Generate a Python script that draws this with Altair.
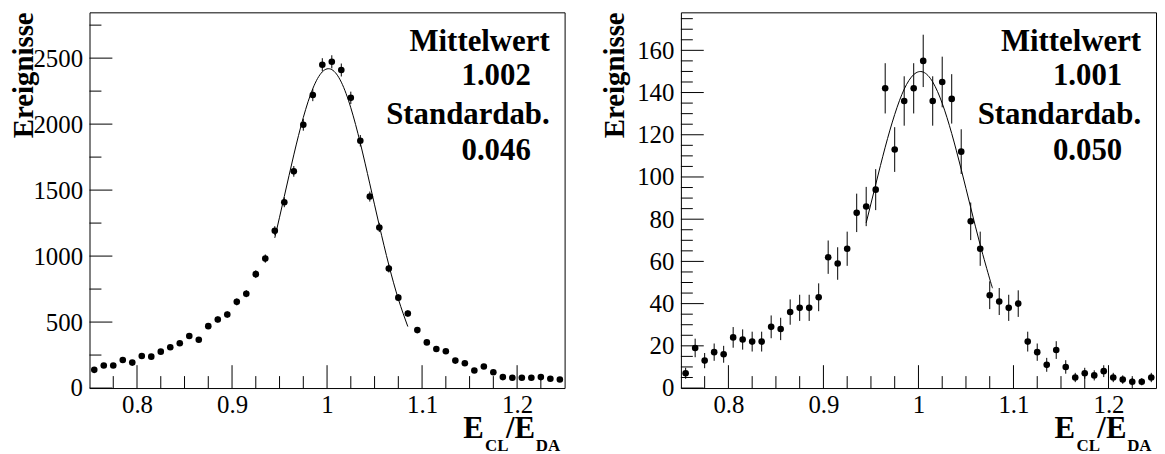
import altair as alt
import pandas as pd

# ---------------- data ----------------
bin_centers = [0.755, 0.765, 0.775, 0.785, 0.795, 0.805, 0.815, 0.825, 0.835, 0.845,
               0.855, 0.865, 0.875, 0.885, 0.895, 0.905, 0.915, 0.925, 0.935, 0.945,
               0.955, 0.965, 0.975, 0.985, 0.995, 1.005, 1.015, 1.025, 1.035, 1.045,
               1.055, 1.065, 1.075, 1.085, 1.095, 1.105, 1.115, 1.125, 1.135, 1.145,
               1.155, 1.165, 1.175, 1.185, 1.195, 1.205, 1.215, 1.225, 1.235, 1.245]

left_counts = [138, 171, 171, 213, 193, 243, 238, 276, 309, 339,
               394, 366, 469, 520, 557, 653, 715, 863, 981, 1192,
               1408, 1642, 1995, 2221, 2450, 2472, 2410, 2199, 1874, 1451,
               1217, 906, 685, 565, 439, 346, 296, 279, 208, 188,
               133, 163, 120, 83, 78, 78, 78, 83, 70, 65]
left_errors = [11.7, 13.1, 13.1, 14.6, 13.9, 15.6, 15.4, 16.6, 17.6, 18.4,
               19.8, 19.1, 21.7, 22.8, 23.6, 25.6, 26.7, 29.4, 31.3, 34.5,
               37.5, 40.5, 44.7, 47.1, 49.5, 49.7, 49.1, 46.9, 43.3, 38.1,
               34.9, 30.1, 26.2, 23.8, 21.0, 18.6, 17.2, 16.7, 14.4, 13.7,
               11.5, 12.8, 11.0, 9.1, 8.8, 8.8, 8.8, 9.1, 8.4, 8.1]

right_counts = [7, 19, 13, 17, 16, 24, 23, 22, 22, 29,
                28, 36, 38, 38, 43, 62, 59, 66, 83, 86,
                94, 142, 113, 136, 142, 155, 136, 145, 137, 112,
                79, 66, 44, 41, 38, 40, 22, 17, 11, 18,
                10, 5, 7, 6, 8, 5, 4, 3, 3, 5]
right_errors = [2.6, 4.4, 3.6, 4.1, 4.0, 4.9, 4.8, 4.7, 4.7, 5.4,
                5.3, 6.0, 6.2, 6.2, 6.6, 7.9, 7.7, 8.1, 9.1, 9.3,
                9.7, 11.9, 10.6, 11.7, 11.9, 12.4, 11.7, 12.0, 11.7, 10.6,
                8.9, 8.1, 6.6, 6.4, 6.2, 6.3, 4.7, 4.1, 3.3, 4.2,
                3.2, 2.2, 2.6, 2.4, 2.8, 2.2, 2.0, 1.7, 1.7, 2.2]

# fitted curves
left_fit_x = [0.945, 0.955, 0.965, 0.975, 0.985, 0.995, 1.005, 1.015, 1.025,
              1.035, 1.045, 1.055, 1.065, 1.075, 1.085]
left_fit_y = [1138, 1452, 1767, 2050, 2269, 2396, 2413, 2318, 2124,
              1856, 1547, 1231, 933, 675, 466]
right_fit_x = [0.945, 0.955, 0.965, 0.975, 0.985, 0.995, 1.005, 1.015, 1.025,
               1.035, 1.045, 1.055, 1.065, 1.075, 1.078]
right_fit_y = [78.3, 96.4, 114.1, 129.6, 141.6, 148.5, 149.7, 145.0, 134.9,
               120.6, 103.6, 85.5, 67.8, 51.7, 47.3]

# axis ticks and labels
x_major = [0.8, 0.9, 1.0, 1.1, 1.2]
x_minor = [0.775, 0.825, 0.85, 0.875, 0.925, 0.95, 0.975, 1.025, 1.05, 1.075,
           1.125, 1.15, 1.175, 1.225]
left_y_major = [0, 500, 1000, 1500, 2000, 2500]
left_y_minor = [250, 750, 1250, 1750, 2250, 2750]
right_y_major = [0, 20, 40, 60, 80, 100, 120, 140, 160]
right_y_minor = [5, 10, 15, 25, 30, 35, 45, 50, 55, 65, 70, 75, 85, 90, 95,
                 105, 110, 115, 125, 130, 135, 145, 150, 155, 165, 170, 175]

left_stats = ["Mittelwert", "1.002", "Standardab.", "0.046"]
right_stats = ["Mittelwert", "1.001", "Standardab.", "0.050"]
y_title = "Ereignisse"

# ---------------- chart ----------------
W, H = 478, 378
FONT = "Liberation Serif"
X_DOMAIN = [0.75, 1.25]


def panel(counts, errs, fit_x, fit_y, ymax, ymajor, yminor, stats):
    df = pd.DataFrame({
        "x": bin_centers,
        "y": counts,
        "lo": [c - e for c, e in zip(counts, errs)],
        "hi": [c + e for c, e in zip(counts, errs)],
    })
    fit = pd.DataFrame({"x": fit_x, "y": fit_y})
    xs = alt.Scale(domain=X_DOMAIN, nice=False, zero=False)
    ys = alt.Scale(domain=[0, ymax], nice=False, zero=False)

    x_axis = alt.Axis(values=x_major, format="~g", ticks=False, domain=False, grid=False,
                      labelFont=FONT, labelFontSize=25, labelColor="black",
                      labelPadding=5, labelFlush=False, labelOverlap=False, title=None)
    y_axis = alt.Axis(values=ymajor, format="d", ticks=False, domain=False, grid=False,
                      labelFont=FONT, labelFontSize=25, labelColor="black",
                      labelPadding=7, labelFlush=False, labelOverlap=False, title=None)

    def X(field):
        return alt.X(field, type="quantitative", scale=xs, axis=x_axis, title=None)

    def Y(field):
        return alt.Y(field, type="quantitative", scale=ys, axis=y_axis, title=None)

    points = alt.Chart(df).mark_circle(color="black", size=44, opacity=1).encode(
        x=X("x"), y=Y("y"),
    )
    errbars = alt.Chart(df).mark_rule(color="black", strokeWidth=1).encode(
        x=X("x"), y=Y("lo"), y2="hi:Q",
    )
    curve = alt.Chart(fit).mark_line(color="black", strokeWidth=1, interpolate="natural").encode(
        x=X("x"), y=Y("y"),
    )

    def xticks(vals, length):
        return alt.Chart(pd.DataFrame({"x": vals})).mark_rule(color="black", strokeWidth=1).encode(
            x=X("x"), y=alt.value(H), y2=alt.value(H - length))

    def yticks(vals, length):
        return alt.Chart(pd.DataFrame({"y": vals})).mark_rule(color="black", strokeWidth=1).encode(
            y=Y("y"), x=alt.value(0), x2=alt.value(length))

    one = alt.Data(values=[{}])

    def txt(s, x, y, size, align="left", angle=0):
        m = alt.Chart(one).mark_text(text=s, font=FONT, fontWeight="bold", fontSize=size,
                                     align=align, baseline="alphabetic", color="black",
                                     angle=angle)
        return m.encode(x=alt.value(x), y=alt.value(y))

    texts = [
        txt(stats[0], 463, 39, 31, "right"),
        txt(stats[1], 444, 73, 31, "right"),
        txt(stats[2], 463, 112, 31, "right"),
        txt(stats[3], 444, 149, 31, "right"),
        txt(y_title, -57, 0, 29, "right", 270),
        txt("E", 376, 428, 31),
        txt("CL", 398, 441, 17),
        txt("/E", 419, 428, 31),
        txt("DA", 449, 441, 17),
    ]

    return alt.layer(
        points, errbars, curve,
        xticks(x_major, 23), xticks(x_minor, 12),
        yticks(ymajor, 23), yticks(yminor, 12),
        *texts,
    ).properties(width=W, height=H)


left = panel(left_counts, left_errors, left_fit_x, left_fit_y, 2847,
             left_y_major, left_y_minor, left_stats)
right = panel(right_counts, right_errors, right_fit_x, right_fit_y, 178,
              right_y_major, right_y_minor, right_stats)

chart = alt.hconcat(left, right, spacing=35).properties(
    padding={"left": 1, "top": 2, "right": 0, "bottom": 0},
    background="white",
).configure_view(stroke="black", strokeWidth=1)

chart.save("out.html", embed_options={"renderer": "svg", "actions": False})
